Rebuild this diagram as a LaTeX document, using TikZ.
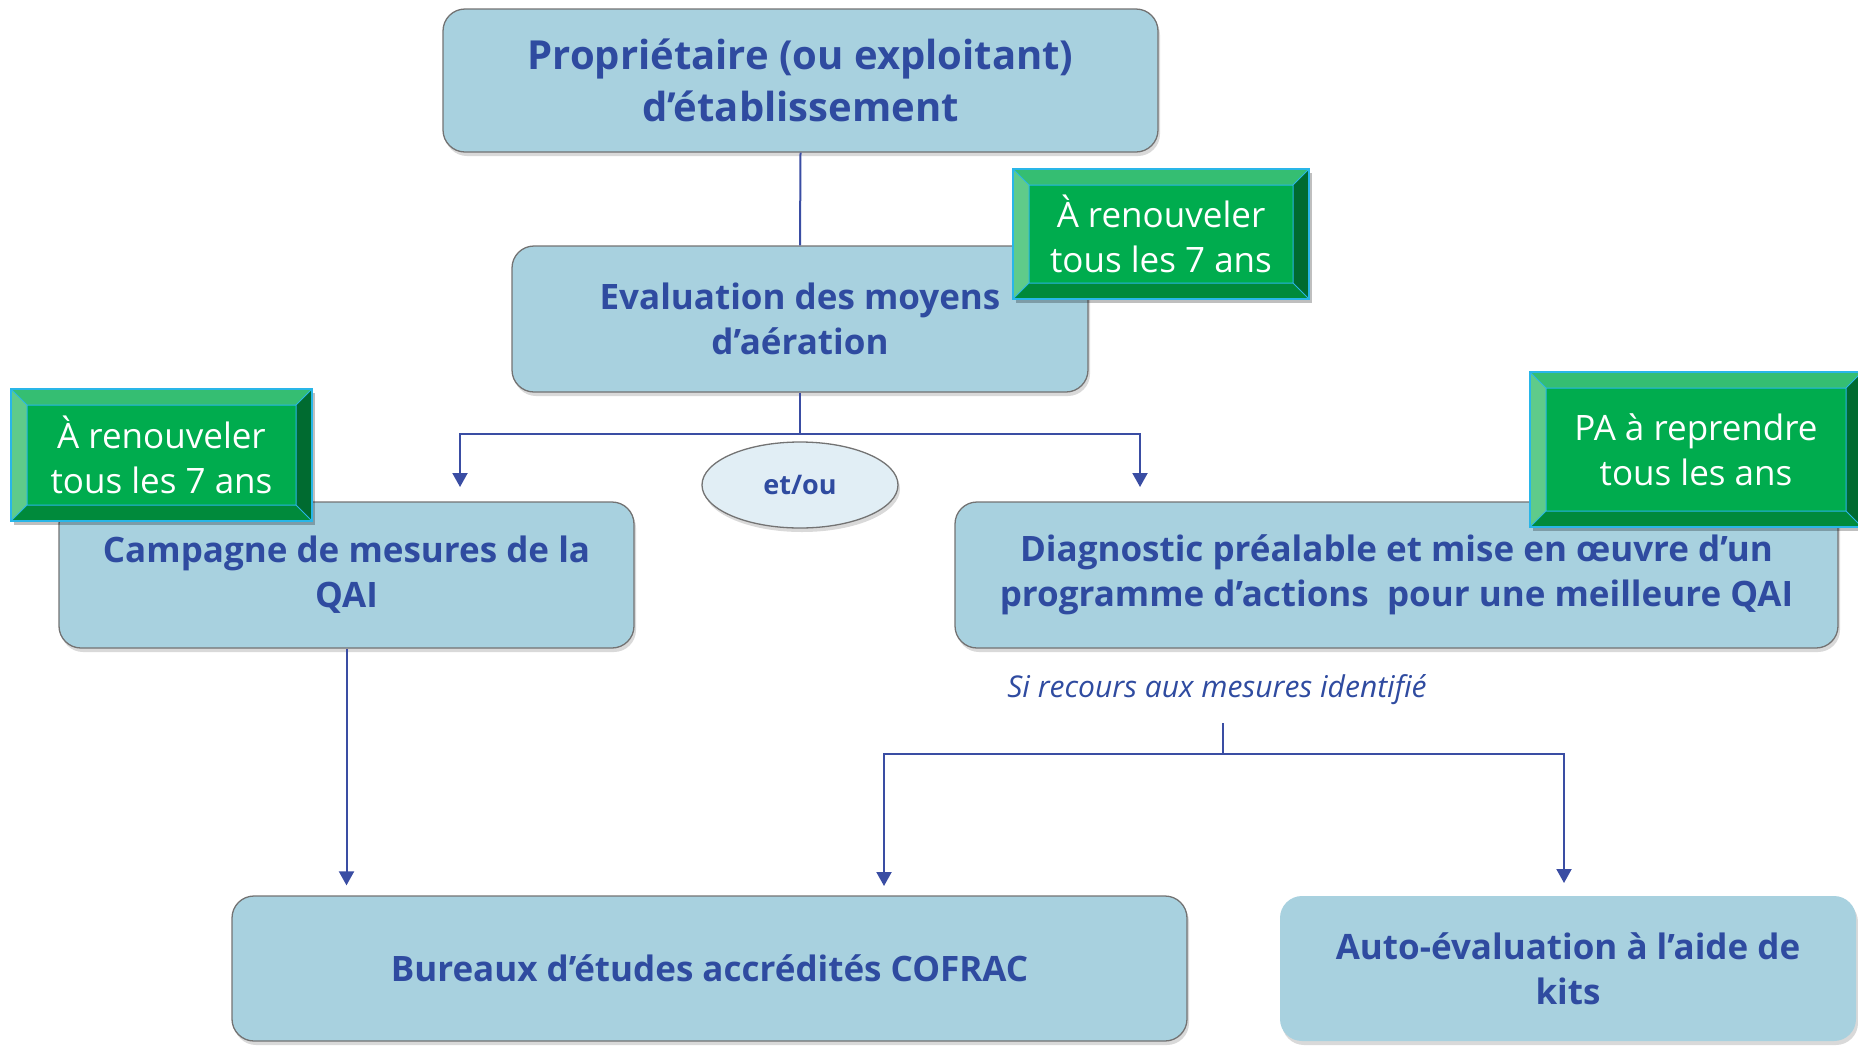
\documentclass[tikz,border=0pt]{standalone}
\usepackage{fontspec}
\setmainfont{Open Sans}
\usetikzlibrary{arrows.meta,shapes.geometric,shadows}
\definecolor{boxblue}{HTML}{A8D1DF}
\definecolor{txtblue}{HTML}{2F4BA0}
\definecolor{lineblue}{HTML}{3A4DA3}
\definecolor{gmid}{HTML}{00AC4E}
\definecolor{gtop}{HTML}{35BE72}
\definecolor{gleft}{HTML}{5FCB8A}
\definecolor{gright}{HTML}{006B30}
\definecolor{gbot}{HTML}{008A3B}
\definecolor{gedge}{HTML}{29B6E8}
\definecolor{ellfill}{HTML}{E1EEF5}
\newcommand\bevelbox[6]{%
  \fill[black,opacity=0.25] (#2+3,#3+4) rectangle (#4+3,#5+4);
  \fill[gtop] (#2,#3) -- (#4,#3) -- (#4-16,#3+16) -- (#2+16,#3+16) -- cycle;
  \fill[gleft] (#2,#3) -- (#2+16,#3+16) -- (#2+16,#5-16) -- (#2,#5) -- cycle;
  \fill[gright] (#4,#3) -- (#4-16,#3+16) -- (#4-16,#5-16) -- (#4,#5) -- cycle;
  \fill[gbot] (#2,#5) -- (#2+16,#5-16) -- (#4-16,#5-16) -- (#4,#5) -- cycle;
  \fill[gmid] (#2+16,#3+16) rectangle (#4-16,#5-16);
  \draw[gedge,line width=1.5pt] (#2,#3) rectangle (#4,#5);
  \draw[gedge,line width=1pt] (#2+16,#3+16) rectangle (#4-16,#5-16)
     (#2,#3) -- (#2+16,#3+16) (#4,#3) -- (#4-16,#3+16)
     (#2,#5) -- (#2+16,#5-16) (#4,#5) -- (#4-16,#5-16);
  \node[greentext] (#1) at ({(#2+#4)/2},{(#3+#5)/2}) {#6};
}
\begin{document}
\begin{tikzpicture}[x=1pt,y=-1pt,
  box/.style={draw=black!55, line width=1.3pt, fill=boxblue, rounded corners=22pt,
     text=txtblue, align=center, inner sep=0pt,
     drop shadow={shadow xshift=2pt,shadow yshift=-4pt,opacity=0.3}},
  bigtxt/.style={font=\fontsize{40}{52}\selectfont\bfseries},
  midtxt/.style={font=\fontsize{35}{45}\selectfont\bfseries},
  greentext/.style={text=white, align=center, font=\fontsize{35}{45}\selectfont},
  conn/.style={draw=lineblue, line width=2pt},
  arr/.style={conn, -{Triangle[length=14pt,width=15pt]}}]
\useasboundingbox (0,0) rectangle (1858,1045);
\clip (0,0) rectangle (1858,1045);

% main boxes
\node[box,bigtxt,minimum width=715pt,minimum height=143pt] (top) at (800.5,80.5)
  {Propriétaire (ou exploitant)\\d’établissement};
\node[box,midtxt,minimum width=576pt,minimum height=146pt] (eval) at (800,319)
  {Evaluation des moyens\\d’aération};
\node[box,midtxt,minimum width=575pt,minimum height=146pt] (camp) at (346.5,575)
  {Campagne de mesures de la\\QAI};
\node[box,midtxt,minimum width=883pt,minimum height=146pt] (diag) at (1396.5,575)
  {Diagnostic préalable et mise en œuvre d’un\\programme d’actions\ \ pour une meilleure QAI};
\node[box,midtxt,minimum width=955pt,minimum height=145pt] (bur) at (709.5,968.5)
  {Bureaux d’études accrédités COFRAC};
\node[box,draw=none,midtxt,minimum width=576pt,minimum height=145pt] (auto) at (1568,968.5)
  {Auto-évaluation à l’aide de\\kits};

% ellipse
\node[ellipse, draw=black!55, line width=1.3pt, fill=ellfill, minimum width=196pt, minimum height=86pt,
  text=txtblue, font=\fontsize{27}{32}\selectfont\bfseries,
  drop shadow={shadow xshift=2pt,shadow yshift=-4pt,opacity=0.3}] (etou) at (800,485) {et/ou};

% connectors
\coordinate (split) at (800,434);
\coordinate (ca) at (460,487);
\coordinate (cd) at (1140,487);
\draw[conn] (top.south) -- (eval.north);
\draw[conn] (eval.south) -- (split);
\draw[arr] (split) -| (ca);
\draw[arr] (split) -| (cd);
\draw[arr, shorten >=10pt] (camp.south) -- (camp.south |- bur.north);

\node[text=txtblue, font=\fontsize{30}{36}\selectfont\itshape] (lbl) at (1217,690)
  {Si recours aux mesures identifié};
\coordinate (j0) at (1223,723);
\coordinate (j) at (1223,754);
\coordinate (cb) at (884,886);
\coordinate (cau) at (1564,883);
\draw[conn] (j0) -- (j);
\draw[arr] (j) -| (cb);
\draw[arr] (j) -| (cau);

% bevel labels
\bevelbox{g1}{1013}{169}{1309}{299}{À renouveler\\tous les 7 ans}
\bevelbox{g2}{11}{389}{312}{521}{À renouveler\\tous les 7 ans}
\bevelbox{g3}{1530}{372}{1862}{527}{PA à reprendre\\tous les ans}
\end{tikzpicture}
\end{document}
